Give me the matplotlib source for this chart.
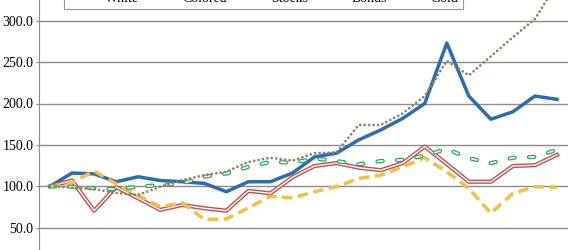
import matplotlib
matplotlib.use("Agg")
import matplotlib.pyplot as plt
import matplotlib.patheffects as pe
import numpy as np

# index values, 24 periods
white = [100, 116, 115, 105.5, 111.5, 107, 105.5, 103.5, 93.5, 105.5, 105.5, 116,
         135.5, 140, 156, 168, 182, 200, 273, 209, 181, 190, 209, 205]
colored = [100, 107, 70.5, 99, 85.5, 71.5, 77.5, 73.5, 70.5, 94.5, 91.5, 111,
           124.5, 128, 122.5, 119.5, 128, 148, 127, 105.5, 105.5, 124.5, 125.5, 138]
stocks = [100, 104.5, 118.5, 103, 89, 75.5, 80, 60, 60.5, 74, 88, 86,
          93.5, 99.5, 109.5, 113.5, 123.5, 134.5, 117.5, 97.5, 67.5, 91.5, 99.5, 99]
bonds = [100, 99.5, 97.5, 96.5, 99.5, 101.5, 103.5, 111.5, 115.5, 123.5, 129.5, 128.5,
         133.5, 130.5, 126.5, 130.5, 132, 137, 145, 134, 128, 134.5, 135.5, 144]
gold = [100, 98.5, 96.5, 92, 89.5, 99.5, 107.5, 113.5, 117.5, 129.5, 134.5, 131,
        140, 141, 174, 174, 188, 209, 251.5, 234, 257, 280, 302, 345]
grid_vals = [0, 50, 100, 150, 200, 250, 300, 350]
ytick_vals = [50, 100, 150, 200, 250, 300]

plt.rcParams['font.family'] = ['Liberation Serif', 'DejaVu Serif']

fig = plt.figure(figsize=(5.7, 2.5), dpi=100)
# plot area runs past the picture edges (cropped chart)
ax = fig.add_axes([39 / 570, -19.1 / 250, 529 / 570, 289.8 / 250])
x = np.arange(len(white))

ax.plot(x, white, color='#2b6db3', lw=2.5, label='White')
ax.plot(x, colored, color='white', lw=1.0, label='Colored',
        path_effects=[pe.Stroke(linewidth=3.0, foreground='#c0504d'), pe.Normal()])
ax.plot(x, stocks, color='#f5c040', lw=2.5, dashes=(3, 1.6), label='Stocks')
ax.plot(x, bonds, color='white', lw=1.2, dashes=(3.2, 8.5), dash_capstyle='round',
        label='Bonds',
        path_effects=[pe.Stroke(linewidth=3.0, foreground='#2aa65a', capstyle='round'),
                      pe.Normal()])
ax.plot(x, gold, color='#8f8262', lw=2.0, dashes=(0.01, 1.6), dash_capstyle='round',
        label='Gold')

ax.set_xlim(-0.5, len(white) - 0.5)
ax.set_ylim(0, 350)
for g in grid_vals:
    ax.axhline(g, color='#8c8c8c', lw=1.0, zorder=0)
ax.set_yticks(ytick_vals)
ax.set_yticklabels([f"{v:.1f}" for v in ytick_vals])
ax.set_xticks([])
for s in ['top', 'right', 'bottom']:
    ax.spines[s].set_visible(False)
ax.spines['left'].set_color('#8c8c8c')
ax.tick_params(axis='y', length=2.5, width=0.8, color='#8c8c8c', pad=1.5, labelsize=10)

leg = fig.legend(loc='lower center', bbox_to_anchor=(263.5 / 570, 241 / 250), ncol=5,
                 fontsize=10, frameon=True, fancybox=False, edgecolor='#808080',
                 handlelength=2.3, handletextpad=0.3, columnspacing=0.55,
                 borderpad=0.3, borderaxespad=0)
leg.get_frame().set_linewidth(0.8)

fig.savefig('out.png', dpi=100)
